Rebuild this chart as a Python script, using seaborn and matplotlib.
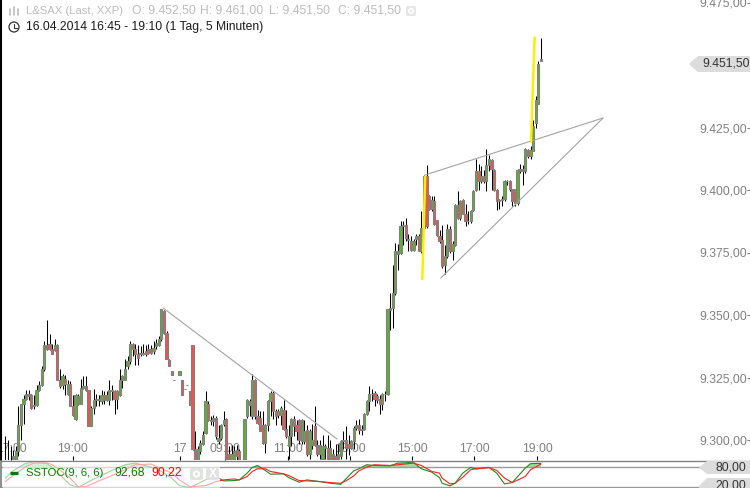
# L&SAX 5 minute candles with trend lines and SSTOC panel
import numpy as np
import pandas as pd
import seaborn as sns
import matplotlib
matplotlib.use("Agg")
import matplotlib.pyplot as plt
from matplotlib.patches import Polygon, Circle, FancyBboxPatch, Rectangle

nan = float("nan")

opens = [
    9289.5, 9289.5, 9289.5, 9290.5, 9292, 9295.5, 9306, 9314.5, 9316.5, 9318.5,
    9318, 9313.5, 9314, 9320, 9322, 9328.5, 9338, 9338.5, 9336.5, 9336,
    9338, 9324, 9322, 9324.5, 9318.5, 9322.5, 9313.5, 9308.5, 9314.5, 9314.5,
    9321, 9321.5, 9320, 9305.5, 9313, 9316, 9316.5, 9315.5, 9318, 9316,
    9316, 9320, 9319.5, 9316.5, 9318, 9324, 9324, 9329.5, 9331.5, 9338.5,
    9336.5, 9334.5, 9334.5, 9334.5, 9335.5, 9336.5, 9336.5, 9335.5, 9337.5, 9338,
    9340.5, 9351.5, 9343, 9332, 9327.5, 9324, nan, 9326, 9324, 9320.5,
    9322, 9319.5, 9338, 9296.5, 9292, 9295.5, 9298.5, 9303, 9314.5, 9308,
    9307.5, 9309, 9299.5, 9301, 9306.5, 9308.5, 9294.5, 9292, 9292, 9296,
    9295.5, 9290, 9292, 9309.5, 9314, 9309.5, 9324, 9309.5, 9309, 9306,
    9299, 9306, 9315.5, 9319, 9311.5, 9310, 9310, 9312, 9304.5, 9297.5,
    9301.5, 9308.5, 9306, 9308, 9299.5, 9299.5, 9304, 9294.5, 9298, 9305.5,
    9298, 9294.5, 9292.5, 9297.5, 9297, 9292.5, 9294.5, 9293.5, 9292.5, 9293.5,
    9299.5, 9300, 9298.5, 9297, 9299.5, 9305, 9306, 9304, 9304.5, 9310.5,
    9315.5, 9318.5, 9319, 9317.5, 9316.5, 9314.5, 9318.5, 9318.5, 9353, 9353,
    9359, 9374.5, 9375, 9385.5, 9386, 9380.5, 9379.5, 9376, 9380.5, 9381.5,
    9375.5, 9385, 9405.5, 9397.5, 9392.5, 9395.5, 9388, 9381.5, 9380, 9370,
    9373.5, 9384.5, 9375.5, 9378, 9394, 9389, 9396, 9390.5, 9387.5, 9387.5,
    9392, 9400, 9407.5, 9403.5, 9405.5, 9403.5, 9410, 9412, 9408, 9400,
    9395.5, 9396, 9396.5, 9403.5, 9403.5, 9400.5, 9400.5, 9395, 9408.5, 9407.5,
    9407.5, 9416, 9413.5, 9415.5, 9427, 9434.5, 9452.5,
]
closes = [
    9290.5, 9290.5, 9290.5, 9293.5, 9295.5, 9306, 9314.5, 9316.5, 9318.5, 9317.5,
    9313, 9314, 9320, 9322, 9328.5, 9338, 9336.5, 9336.5, 9334.5, 9338,
    9324, 9321.5, 9325.5, 9322.5, 9322.5, 9313.5, 9310, 9318, 9317.5, 9321,
    9321.5, 9320, 9305.5, 9313, 9316, 9316.5, 9316, 9318, 9316, 9318,
    9320, 9319.5, 9316.5, 9319.5, 9324, 9325.5, 9328.5, 9331.5, 9338.5, 9336.5,
    9334.5, 9333, 9335, 9335, 9334.5, 9335, 9335, 9337, 9339, 9340.5,
    9352.5, 9343, 9332.5, 9329.5, 9326, 9324, nan, 9327.5, 9318, 9320.5,
    9322, 9314, 9296.5, 9292, 9296.5, 9299, 9302, 9315.5, 9308, 9307.5,
    9309, 9301.5, 9301, 9306, 9308, 9292.5, 9292, 9294.5, 9295.5, 9293.5,
    9292, 9291, 9308.5, 9316, 9315.5, 9324, 9309.5, 9307, 9303.5, 9299,
    9306, 9315.5, 9319, 9311.5, 9309.5, 9311.5, 9313, 9304.5, 9301.5, 9301.5,
    9308.5, 9305.5, 9303.5, 9300, 9308, 9303.5, 9294.5, 9303.5, 9300, 9298,
    9294.5, 9298, 9297.5, 9297, 9292.5, 9297, 9292.5, 9292.5, 9294.5, 9299.5,
    9300, 9297, 9297, 9299.5, 9305, 9306, 9304, 9304.5, 9310.5, 9315.5,
    9318.5, 9318.5, 9316.5, 9316, 9314.5, 9318.5, 9318.5, 9352.5, 9352, 9359,
    9375.5, 9375.5, 9385.5, 9386, 9381, 9380, 9376, 9379.5, 9381.5, 9375.5,
    9385, 9405.5, 9385.5, 9392.5, 9396, 9386.5, 9382, 9379.5, 9369.5, 9373.5,
    9384.5, 9375.5, 9378.5, 9394, 9389, 9395.5, 9390.5, 9387.5, 9387.5, 9391.5,
    9399.5, 9407.5, 9403.5, 9405.5, 9403.5, 9410, 9412.5, 9408.5, 9400, 9395.5,
    9396, 9396.5, 9403.5, 9403.5, 9400.5, 9395.5, 9395, 9408, 9407.5, 9408.5,
    9416.5, 9413.5, 9416, 9425.5, 9436, 9450.5, 9451.5,
]
highs = [
    9301.5, 9300, 9297.5, 9296, 9297.5, 9313.5, 9314.5, 9318, 9320, 9320,
    9318.5, 9318, 9322, 9323.5, 9329.5, 9339.5, 9348, 9342.5, 9338.5, 9340.5,
    9338.5, 9328.5, 9326.5, 9326, 9324, 9323.5, 9318, 9318.5, 9318.5, 9324.5,
    9325.5, 9325.5, 9320, 9313.5, 9320.5, 9318.5, 9318, 9320, 9319.5, 9319.5,
    9324, 9322, 9320, 9320, 9328.5, 9326, 9332.5, 9333.5, 9339.5, 9339,
    9338.5, 9338, 9337.5, 9338.5, 9338, 9338.5, 9338, 9339.5, 9340.5, 9341.5,
    9352.5, 9352, 9343.5, 9332.5, 9327.5, 9324, nan, 9327.5, 9324, 9320.5,
    9322, 9319.5, 9338, 9303.5, 9297.5, 9300, 9303.5, 9319.5, 9315.5, 9309.5,
    9310, 9309.5, 9306, 9306.5, 9311.5, 9309, 9297.5, 9298, 9297.5, 9298,
    9296.5, 9291, 9308.5, 9316.5, 9316.5, 9326.5, 9324.5, 9312, 9311.5, 9311.5,
    9306.5, 9316, 9319.5, 9319.5, 9312.5, 9312.5, 9313.5, 9316, 9312, 9306,
    9309, 9309.5, 9308, 9308.5, 9308.5, 9308, 9306, 9304.5, 9306.5, 9313.5,
    9300, 9300, 9302, 9298.5, 9302, 9300, 9296.5, 9298.5, 9298.5, 9300,
    9303.5, 9305.5, 9302, 9300, 9305.5, 9308, 9308.5, 9306, 9311, 9316,
    9321.5, 9320.5, 9319.5, 9318.5, 9318, 9319, 9319.5, 9352.5, 9359, 9370,
    9379, 9378.5, 9387.5, 9387.5, 9389, 9382.5, 9381.5, 9380.5, 9382.5, 9382.5,
    9391.5, 9406, 9410, 9398, 9397.5, 9397.5, 9388, 9384, 9386, 9378,
    9386.5, 9385.5, 9379.5, 9394.5, 9399.5, 9396, 9396.5, 9394.5, 9391.5, 9392,
    9400, 9412.5, 9410.5, 9409.5, 9408, 9416.5, 9414, 9412.5, 9408.5, 9400.5,
    9396.5, 9397.5, 9404, 9404, 9404, 9400.5, 9400.5, 9408.5, 9410.5, 9410,
    9417, 9416.5, 9417.5, 9428, 9437.5, 9451.5, 9461,
]
lows = [
    9289.5, 9289.5, 9289.5, 9289.5, 9292, 9293.5, 9300, 9306.5, 9316, 9316,
    9312.5, 9312.5, 9313.5, 9319.5, 9321.5, 9327.5, 9336, 9336, 9334.5, 9335.5,
    9324, 9321, 9320.5, 9318, 9318, 9313.5, 9309.5, 9308, 9314, 9314.5,
    9320.5, 9319.5, 9305.5, 9305.5, 9310.5, 9313.5, 9313.5, 9314.5, 9314.5, 9315.5,
    9314, 9316, 9310.5, 9312.5, 9317.5, 9321, 9324, 9328.5, 9330.5, 9333.5,
    9330, 9330, 9333.5, 9334, 9333.5, 9334.5, 9334.5, 9334.5, 9336.5, 9337.5,
    9339.5, 9342.5, 9332.5, 9329.5, 9326, 9324, nan, 9326, 9318, 9320.5,
    9322, 9314, 9296, 9292, 9292, 9294.5, 9298, 9302.5, 9307.5, 9306,
    9305.5, 9300.5, 9298.5, 9300, 9305.5, 9292, 9292, 9292, 9292, 9292,
    9292, 9290, 9292, 9309, 9309.5, 9308.5, 9308.5, 9306.5, 9303.5, 9298.5,
    9295, 9303.5, 9309.5, 9308.5, 9306, 9309, 9306, 9304, 9301, 9292.5,
    9297.5, 9301.5, 9300, 9298.5, 9298.5, 9298.5, 9293.5, 9292.5, 9296.5, 9297.5,
    9293.5, 9292.5, 9292, 9292.5, 9292, 9292, 9292, 9292, 9292, 9292.5,
    9296.5, 9292.5, 9294, 9296.5, 9296.5, 9304, 9302.5, 9302, 9304, 9310,
    9311.5, 9315.5, 9313.5, 9315, 9310.5, 9312, 9315.5, 9318, 9344, 9345,
    9358, 9368, 9374.5, 9378, 9379.5, 9375.5, 9375.5, 9375.5, 9378, 9375.5,
    9375, 9384.5, 9385, 9392, 9391.5, 9386, 9381.5, 9379, 9369, 9366.5,
    9373, 9375, 9372, 9377.5, 9388.5, 9388, 9390.5, 9385.5, 9386.5, 9387,
    9391.5, 9399.5, 9400, 9403, 9403, 9399.5, 9407.5, 9400, 9399.5, 9392,
    9392.5, 9393.5, 9395.5, 9402, 9399.5, 9393.5, 9393.5, 9394, 9407, 9402,
    9407, 9413, 9412.5, 9415.5, 9425, 9434.5, 9451.5,
]

y_ticks = [9475, 9450, 9425, 9400, 9375, 9350, 9325, 9300]
y_labels = ["9.475,00", "", "9.425,00", "9.400,00", "9.375,00", "9.350,00", "9.325,00", "9.300,00"]
x_ticks = [2.2, 26, 67.2, 84.5, 108.7, 132.6, 156.5, 180.3, 204.5]
x_labels = ["17:00", "19:00", "17", "09:00", "11:00", "13:00", "15:00", "17:00", "19:00"]

# grey trend lines and yellow strokes, (bar, price) ends
fall_bar = [60.7, 127.6]
fall_price = [9352.8, 9300.4]
upper_bar = [161.4, 229.9]
upper_price = [9406, 9428.8]
lower_bar = [167.5, 229.9]
lower_price = [9364.8, 9428.8]
yellow1_bar = [160.4, 161.5]
yellow1_price = [9364.4, 9405.3]
yellow2_bar = [202.2, 203.6]
yellow2_price = [9419.3, 9461]

# SSTOC read at a number of bars
stoc_bar = [0, 3, 8, 11, 16, 18, 21, 25, 28, 31, 36, 41, 46, 50, 56, 59, 64, 67, 71, 77,
            81, 84, 88, 90, 93, 95, 97, 100, 102, 107, 109, 113, 116, 121, 125, 129, 131,
            134, 136, 139, 142, 148, 151, 157, 160, 164, 167, 168, 171, 173, 176, 179,
            181, 186, 189, 192, 195, 200, 202, 206]
stoc_k = [46.2, 69.3, 93.4, 96.5, 92.3, 79.8, 56.7, 25.3, 18, 30.5, 51.5, 70.3, 88.2, 93.4,
          80.8, 72.4, 46.2, 23.2, 16.9, 41, 51.5, 37.9, 38.9, 41, 62, 79.8, 86, 70.3, 58.8,
          59.9, 48.3, 33.7, 41, 35.8, 30.5, 27.4, 44.1, 69.3, 75.6, 88.2, 86, 85, 93.4, 95.5,
          75.6, 65.3, 48.3, 30.7, 22.4, 30.7, 62.2, 80, 74.8, 80, 62.2, 28.6, 32.8, 77.9,
          91.5, 92.68]
stoc_d = [35.8, 54.6, 82.9, 93.4, 94.4, 88.2, 72.4, 46.2, 20, 20, 37.9, 54.6, 72.4, 88.2,
          90.3, 79.8, 62, 41, 20, 23.2, 35.8, 41, 44.1, 41, 51.5, 67.2, 75.6, 75.6, 67.2,
          59.9, 54.6, 38.9, 37.9, 35.8, 32.6, 30.5, 37.9, 53.6, 69.3, 80.8, 88.2, 86, 88.2,
          93.4, 86, 67.4, 62, 46.5, 28.6, 30.7, 49.6, 72.7, 75.8, 79, 70.6, 46.5, 32.8, 51.7,
          72.7, 90.22]

W, H = 750, 488
GREY = "#808080"

sns.set_theme(style="white")
plt.rcParams["font.family"] = ["Liberation Sans", "DejaVu Sans"]
plt.rcParams["font.size"] = 8.7

df = pd.DataFrame({"open": opens, "high": highs, "low": lows, "close": closes})
df["bar"] = np.arange(len(df))
df["up"] = df["close"] >= df["open"]

fig = plt.figure(figsize=(W / 100, H / 100), dpi=100, facecolor="white")

# bar i sits at 5.3 + 2.6 * i pixels
xlim = ((1 - 5.3) / 2.6, (750 - 5.3) / 2.6)

ax = fig.add_axes([1 / W, (H - 460) / H, 749 / W, 460 / H])
ax.set_xlim(*xlim)
ax.set_ylim(9292, 9476)
ax.set_axisbelow(True)

ax.vlines(df["bar"], df["low"], df["high"], color="black", lw=0.75, zorder=2)
body_low = df[["open", "close"]].min(axis=1)
body_height = (df["close"] - df["open"]).abs()
ax.bar(df["bar"], body_height, bottom=body_low, width=0.85,
       color=np.where(df["up"], "#62b02e", "#f0544f"),
       edgecolor=GREY, linewidth=0.8, zorder=3)

for bars, prices in [(fall_bar, fall_price), (upper_bar, upper_price), (lower_bar, lower_price)]:
    sns.lineplot(x=bars, y=prices, ax=ax, color="#a3a3a3", lw=0.8, estimator=None, sort=False, zorder=4)
for bars, prices in [(yellow1_bar, yellow1_price), (yellow2_bar, yellow2_price)]:
    sns.lineplot(x=bars, y=prices, ax=ax, color="#ffee00", lw=1.8, estimator=None, sort=False, zorder=5)

ax.set_xlabel("")
ax.set_ylabel("")
for side in ["top", "right", "bottom"]:
    ax.spines[side].set_visible(False)
ax.spines["left"].set_color("black")
ax.spines["left"].set_linewidth(1.5)

ax.yaxis.tick_right()
ax.set_yticks(y_ticks, y_labels)
ax.tick_params(axis="y", direction="in", length=2, width=0.8, color=GREY, pad=-36.5,
               labelcolor=GREY, labelsize=8.7, right=True)
ax.set_xticks(x_ticks, x_labels)
ax.tick_params(axis="x", direction="in", length=3, width=0.8, color="black", pad=-12.5,
               labelcolor=GREY, labelsize=8.7, bottom=True)
for lab in ax.get_xticklabels():
    lab.set_clip_on(True)
    lab.set_clip_box(ax.bbox)

# SSTOC panel
ax2 = fig.add_axes([1 / W, 0, 749 / W, 27.3 / H])
ax2.set_xlim(*xlim)
ax2.set_ylim(15.8, 100.8)
ax2.axhline(80, color="#9a9a9a", lw=1)
ax2.axhline(20, color="#9a9a9a", lw=1)
k_arr = np.array(stoc_k)
ax2.fill_between(stoc_bar, 80, k_arr, where=k_arr > 80, interpolate=True, color="#9fdf9f", lw=0)
sns.lineplot(x=stoc_bar, y=stoc_k, ax=ax2, color="#1f8a1f", lw=0.8, estimator=None, sort=False)
sns.lineplot(x=stoc_bar, y=stoc_d, ax=ax2, color="#ff2020", lw=0.8, estimator=None, sort=False)
ax2.set_xticks([])
ax2.set_yticks([])
ax2.set_xlabel("")
ax2.set_ylabel("")
for side in ["right", "bottom"]:
    ax2.spines[side].set_visible(False)
ax2.spines["top"].set_color(GREY)
ax2.spines["top"].set_linewidth(1)
ax2.spines["left"].set_color(GREY)

# overlay in pixels for header, tags and icons
over = fig.add_axes([0, 0, 1, 1], facecolor="none")
over.set_xlim(0, W)
over.set_ylim(H, 0)
over.axis("off")

over.add_patch(Rectangle((3, 462), 217, 26, facecolor="white", alpha=0.6, edgecolor="none"))

head = "#bcbcbc"
over.text(26, 10.5, "L&SAX (Last, XXP)", color=head, fontsize=8.1, va="center")
for xpos, txt in [(132, "O: 9.452,50"), (200, "H: 9.461,00"), (269, "L: 9.451,50"), (338, "C: 9.451,50")]:
    over.text(xpos, 10.5, txt, color=head, fontsize=8.7, va="center")
over.text(26, 27, "16.04.2014 16:45 - 19:10 (1 Tag, 5 Minuten)", color="#1a1a1a", fontsize=8.7, va="center")

# little candle icon, gear and clock
for xpos, y0, y1 in [(10, 9, 15), (14, 7, 15), (18, 9, 15)]:
    over.plot([xpos, xpos], [y0, y1], color=head, lw=1.2)
over.add_patch(FancyBboxPatch((406, 6), 10, 10, boxstyle="round,pad=0,rounding_size=2",
                              facecolor="#e6e6e6", edgecolor="none"))
over.add_patch(Circle((411, 11), 2.2, facecolor="none", edgecolor="white", lw=1.2))
over.add_patch(Circle((14, 27), 5, facecolor="none", edgecolor="#333333", lw=0.9))
over.plot([14, 14, 17], [24, 27.5, 27.5], color="#333333", lw=0.8)

# value tags on the right
tag_grey = "#dcdcdc"
over.add_patch(Polygon([(689, 64), (698, 56), (750, 56), (750, 72), (698, 72)], closed=True,
                       facecolor=tag_grey, edgecolor="none"))
over.text(702, 64, "9.451,50", color="#333333", fontsize=8.7, va="center")
over.add_patch(Polygon([(699, 467.5), (707, 461), (750, 461), (750, 474), (707, 474)], closed=True,
                       facecolor=tag_grey, edgecolor="none"))
over.text(715, 467.5, "80,00", color="#333333", fontsize=8.7, va="center")
over.add_patch(Polygon([(699, 486), (707, 478), (750, 478), (750, 488), (699, 488)], closed=True,
                       facecolor=tag_grey, edgecolor="none"))
over.text(715, 486, "20,00", color="#333333", fontsize=8.7, va="center")

# SSTOC legend and small buttons
over.plot([10, 18], [473, 473], color="#007a00", lw=2.4, solid_capstyle="butt")
over.text(26, 472.5, "SSTOC(9, 6, 6)", color="#008000", fontsize=8.1, va="center")
over.text(114, 472.5, "92,68", color="#008000", fontsize=8.7, va="center")
over.text(151, 472.5, "90,22", color="#ff0000", fontsize=8.7, va="center")
for xpos in [190, 206]:
    over.add_patch(FancyBboxPatch((xpos, 468), 13, 12, boxstyle="round,pad=0,rounding_size=2",
                                  facecolor="#e2e2e2", edgecolor="none"))
over.add_patch(Circle((196.5, 474), 2.6, facecolor="none", edgecolor="white", lw=1.3))
over.text(212.5, 474, "X", color="white", fontsize=8.5, fontweight="bold", ha="center", va="center")

fig.savefig("out.png", dpi=100)
